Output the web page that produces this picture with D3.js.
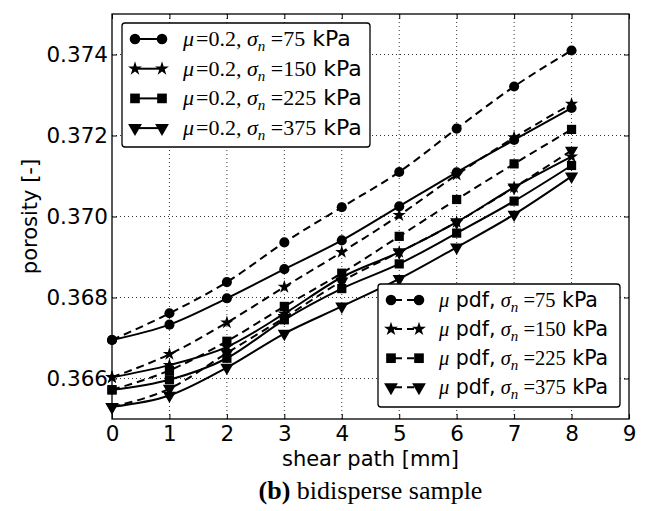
<!DOCTYPE html>
<html>
<head>
<meta charset="utf-8">
<script src="https://cdn.jsdelivr.net/npm/d3@7"></script>
<style>
  body { margin: 0; background: #fff; }
  svg { display: block; }
</style>
</head>
<body>
<script>
// shear path positions (mm)
const xs = [0, 1, 2, 3, 4, 5, 6, 7, 8];

// mu = 0.2 (solid)
const mu02_75  = [0.36695, 0.36733, 0.36798, 0.36870, 0.36941, 0.37025, 0.37109, 0.37189, 0.37268];
const mu02_150 = [0.36603, 0.36633, 0.36678, 0.36760, 0.36850, 0.36912, 0.36986, 0.37072, 0.37148];
const mu02_225 = [0.36572, 0.36597, 0.36650, 0.36745, 0.36822, 0.36883, 0.36959, 0.37038, 0.37126];
const mu02_375 = [0.36530, 0.36558, 0.36627, 0.36711, 0.36778, 0.36846, 0.36924, 0.37005, 0.37099];

// mu pdf (dashed)
const pdf_75  = [0.36695, 0.36761, 0.36838, 0.36936, 0.37023, 0.37110, 0.37217, 0.37321, 0.37410];
const pdf_150 = [0.36603, 0.36660, 0.36738, 0.36826, 0.36912, 0.37003, 0.37103, 0.37195, 0.37278];
const pdf_225 = [0.36572, 0.36620, 0.36692, 0.36778, 0.36860, 0.36951, 0.37042, 0.37130, 0.37215];
const pdf_375 = [0.36530, 0.36575, 0.36663, 0.36750, 0.36840, 0.36912, 0.36986, 0.37072, 0.37163];

const sigmas = ['75', '150', '225', '375'];
const xTicks = [0, 1, 2, 3, 4, 5, 6, 7, 8, 9];
const yTicks = [0.366, 0.368, 0.370, 0.372, 0.374];

const markers = [d3.symbolCircle, d3.symbolStar, d3.symbolSquare, d3.symbolTriangle];
const markerSize = [80, 55, 85, 75];

const solidSeries = [mu02_75, mu02_150, mu02_225, mu02_375];
const dashedSeries = [pdf_75, pdf_150, pdf_225, pdf_375];

const width = 649, height = 511;
const pL = 112, pR = 629, pT = 14, pB = 419;

const svg = d3.select('body').append('svg')
  .attr('width', width)
  .attr('height', height);

const x = d3.scaleLinear().domain([0, 9]).range([pL, pR]);
const y = d3.scaleLinear().domain([0.365, 0.375]).range([pB, pT]);

// grid
const grid = svg.append('g');
grid.selectAll('.gx').data(xTicks.slice(1, -1)).enter().append('line')
  .attr('x1', d => x(d)).attr('x2', d => x(d))
  .attr('y1', pT).attr('y2', pB)
  .attr('stroke', '#000').attr('stroke-width', 0.8).attr('stroke-dasharray', '1,3');
grid.selectAll('.gy').data(yTicks).enter().append('line')
  .attr('x1', pL).attr('x2', pR)
  .attr('y1', d => y(d)).attr('y2', d => y(d))
  .attr('stroke', '#000').attr('stroke-width', 0.8).attr('stroke-dasharray', '1,3');

// axes with inward ticks
const fmt = d3.format('.3f');
const axB = svg.append('g').attr('transform', `translate(0,${pB})`)
  .call(d3.axisBottom(x).tickValues(xTicks).tickSize(-5).tickPadding(7).tickFormat(d3.format('d')));
const axT = svg.append('g').attr('transform', `translate(0,${pT})`)
  .call(d3.axisTop(x).tickValues(xTicks).tickSize(-5).tickFormat(''));
const axL = svg.append('g').attr('transform', `translate(${pL},0)`)
  .call(d3.axisLeft(y).tickValues(yTicks).tickSize(-5).tickPadding(4).tickFormat(fmt));
const axR = svg.append('g').attr('transform', `translate(${pR},0)`)
  .call(d3.axisRight(y).tickValues(yTicks).tickSize(-5).tickFormat(''));

[axB, axT, axL, axR].forEach(a => {
  a.select('.domain').remove();
  a.selectAll('.tick line').attr('stroke', '#000').attr('stroke-width', 1);
  a.selectAll('.tick text').attr('font-family', 'DejaVu Sans').attr('font-size', 21.5).attr('fill', '#000');
});

svg.append('rect')
  .attr('x', pL).attr('y', pT)
  .attr('width', pR - pL).attr('height', pB - pT)
  .attr('fill', 'none').attr('stroke', '#000').attr('stroke-width', 1.3);

// lines
const line = d3.line()
  .x((d, i) => x(xs[i]))
  .y(d => y(d))
  .curve(d3.curveMonotoneX);

const plot = svg.append('g');

function drawSeries(vals, k, dashed) {
  plot.append('path')
    .attr('d', line(vals))
    .attr('fill', 'none')
    .attr('stroke', '#000')
    .attr('stroke-width', 2)
    .attr('stroke-dasharray', dashed ? '8,5' : null);
  plot.selectAll(null).data(vals).enter().append('path')
    .attr('d', d3.symbol().type(markers[k]).size(markerSize[k]))
    .attr('transform', (d, i) => `translate(${x(xs[i])},${y(d)})` + (k === 3 ? ' rotate(180)' : ''))
    .attr('fill', '#000');
}

solidSeries.forEach((s, k) => drawSeries(s, k, false));
dashedSeries.forEach((s, k) => drawSeries(s, k, true));

// legends
function legendLabel(t, prefix, sigma) {
  const serif = 'Liberation Serif';
  t.append('tspan').attr('font-family', serif).attr('font-style', 'italic').text('μ');
  if (prefix === 'pdf') {
    t.append('tspan').attr('font-family', 'DejaVu Sans').text(' pdf,');
  } else {
    t.append('tspan').attr('font-family', serif).attr('dx', 2).text('=0.2,');
  }
  t.append('tspan').attr('font-family', serif).attr('font-style', 'italic').text(' σ');
  t.append('tspan').attr('font-family', serif).attr('font-style', 'italic')
    .attr('font-size', 15).attr('dy', 5).text('n');
  t.append('tspan').attr('font-family', serif).attr('dy', -5).text(' =' + sigma);
  t.append('tspan').attr('font-family', 'DejaVu Sans').text(' kPa');
}

function drawLegend(bx, by, bw, bh, rowY0, rowStep, m1, m2, tx, dashed, prefix, fs) {
  const g = svg.append('g');
  g.append('rect')
    .attr('x', bx).attr('y', by).attr('width', bw).attr('height', bh)
    .attr('rx', 3).attr('fill', '#fff').attr('stroke', '#000').attr('stroke-width', 1.3);
  sigmas.forEach((s, k) => {
    const ry = rowY0 + k * rowStep;
    g.append('line')
      .attr('x1', m1).attr('x2', m2).attr('y1', ry).attr('y2', ry)
      .attr('stroke', '#000').attr('stroke-width', 2)
      .attr('stroke-dasharray', dashed ? '7,5' : null)
      .attr('stroke-dashoffset', dashed ? -4 : null);
    [m1, m2].forEach(mx => {
      g.append('path')
        .attr('d', d3.symbol().type(markers[k]).size(markerSize[k] * 1.1))
        .attr('transform', `translate(${mx},${ry})` + (k === 3 ? ' rotate(180)' : ''))
        .attr('fill', '#000');
    });
    const t = g.append('text')
      .attr('x', tx).attr('y', ry + 7)
      .attr('font-size', fs).attr('fill', '#000');
    legendLabel(t, prefix, s);
  });
}

drawLegend(122, 23, 248, 124, 39, 29.7, 135, 162, 183, false, '0.2', 22);
drawLegend(378, 284, 242, 123, 300, 29.1, 391, 419, 439, true, 'pdf', 20.5);

// axis labels
svg.append('text')
  .attr('transform', `translate(37,${(pT + pB) / 2}) rotate(-90)`)
  .attr('text-anchor', 'middle')
  .attr('font-family', 'DejaVu Sans').attr('font-size', 21)
  .text('porosity [-]');

svg.append('text')
  .attr('x', (pL + pR) / 2).attr('y', 466)
  .attr('text-anchor', 'middle')
  .attr('font-family', 'DejaVu Sans').attr('font-size', 21)
  .text('shear path [mm]');

const cap = svg.append('text')
  .attr('x', (pL + pR) / 2).attr('y', 499)
  .attr('text-anchor', 'middle')
  .attr('font-family', 'Liberation Serif').attr('font-size', 26);
cap.append('tspan').attr('font-weight', 'bold').text('(b)');
cap.append('tspan').text(' bidisperse sample');
</script>
</body>
</html>
